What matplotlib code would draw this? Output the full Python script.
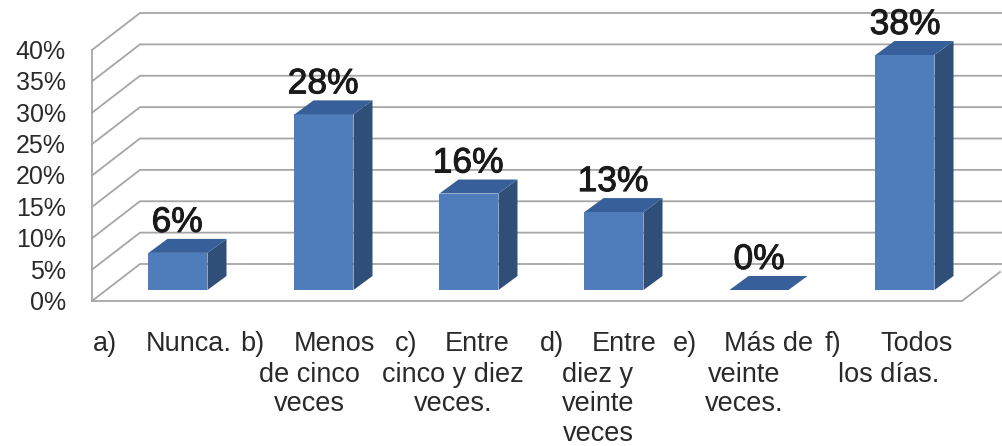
import numpy as np
import matplotlib.pyplot as plt
from matplotlib import patheffects
from matplotlib.patches import Polygon, Rectangle
plt.switch_backend('agg')

plt.rcParams['font.family'] = ['Liberation Sans', 'DejaVu Sans']

bar_values = [6, 28.4, 15.6, 12.6, 0, 38]
value_labels = ['6%', '28%', '16%', '13%', '0%', '38%']
y_ticks = [0, 5, 10, 15, 20, 25, 30, 35, 40]
cat_letters = ['a)', 'b)', 'c)', 'd)', 'e)', 'f)']
cat_heads = ['Nunca.', 'Menos', 'Entre', 'Entre', 'Más de', 'Todos']
cat_rest = [[], ['de cinco', 'veces'], ['cinco y diez', 'veces.'], ['diez y', 'veinte', 'veces'],
            ['veinte', 'veces.'], ['los días.']]

BAR_FRONT = '#4f7dbb'
BAR_SIDE = '#2f4e78'
BAR_TOP = '#37609a'
GRID = '#a6a6a6'
TEXT = '#2a2a2a'

fig = plt.figure(figsize=(10.02, 4.46), dpi=100)
ax = fig.add_axes([0, 0, 1, 1])
ax.set_xlim(0, 1002)
ax.set_ylim(446, 0)
ax.axis('off')


# value -> pixel row on the front plane of the chart box
def front_y(v):
    return 301 - v * (301 - 50) / 40


depth_x, depth_y = 48, -37
x_left, x_right = 92, 962

for tick in y_ticks:
    y = front_y(tick)
    ax.plot([x_left, x_left + depth_x, 1002], [y, y + depth_y, y + depth_y], color=GRID, lw=1.3, zorder=1)
    ax.text(66, y + 2, f'{tick}%', fontsize=18, ha='right', va='center', color=TEXT)

ax.plot([x_left, x_left], [front_y(0), front_y(40)], color=GRID, lw=1.3, zorder=1)
ax.plot([x_left, x_right, 1000], [front_y(0), front_y(0), front_y(0) - 29], color=GRID, lw=1.3, zorder=1)

bar_w = 59
bar_dx, bar_dy = 19, -14
bar_base = 290
centers = [178, 324, 469, 614, 759, 905]
value_x = [177, 323, 468, 613, 759, 905]
letter_x = [93, 240, 395, 540, 673, 825]
head_right = [232, 375, 510, 657, 813, 953]
rest_x = [162, 309, 453, 598, 744, 889]
line_y = [351, 382, 411, 441]

for i in range(len(bar_values)):
    x0 = centers[i] - bar_w / 2
    x1 = x0 + bar_w
    top = bar_base - bar_values[i] * (290 - 55) / 38
    if bar_values[i] > 0:
        ax.add_patch(Rectangle((x0, top), bar_w, bar_base - top, fc=BAR_FRONT, ec='none', zorder=3))
        ax.add_patch(Polygon([(x1, top), (x1 + bar_dx, top + bar_dy), (x1 + bar_dx, bar_base + bar_dy), (x1, bar_base)],
                             fc=BAR_SIDE, ec='none', zorder=3))
    ax.add_patch(Polygon([(x0, top), (x1, top), (x1 + bar_dx, top + bar_dy), (x0 + bar_dx, top + bar_dy)],
                         fc=BAR_TOP, ec='none', zorder=3))
    ax.text(value_x[i], top - 21, value_labels[i], fontsize=25.5, ha='center', va='baseline', color='#1a1a1a', zorder=4,
            path_effects=[patheffects.withStroke(linewidth=0.7, foreground='#1a1a1a')])
    ax.text(letter_x[i], line_y[0], cat_letters[i], fontsize=19.5, ha='left', va='baseline', color=TEXT)
    ax.text(head_right[i], line_y[0], cat_heads[i], fontsize=19.5, ha='right', va='baseline', color=TEXT)
    for j, line in enumerate(cat_rest[i]):
        ax.text(rest_x[i], line_y[j + 1], line, fontsize=19.5, ha='center', va='baseline', color=TEXT)

fig.savefig('out.png', dpi=100)
